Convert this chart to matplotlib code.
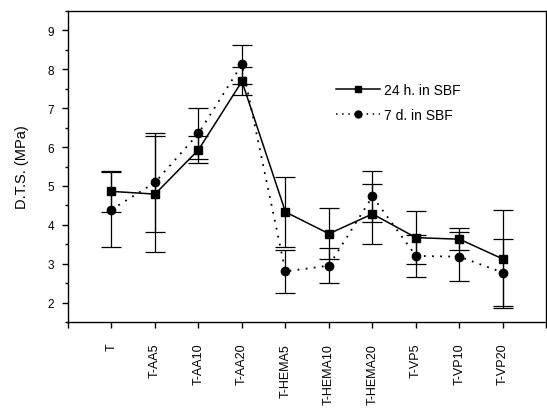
import matplotlib
matplotlib.use('Agg')
import matplotlib.pyplot as plt
from matplotlib.lines import Line2D
from matplotlib.ticker import MultipleLocator

plt.rcParams['font.family'] = ['Liberation Sans', 'DejaVu Sans']

# data
groupes = ["T", "T-AA5", "T-AA10", "T-AA20", "T-HEMA5", "T-HEMA10",
           "T-HEMA20", "T-VP5", "T-VP10", "T-VP20"]
dts_24h = [4.86, 4.79, 5.93, 7.69, 4.33, 3.77, 4.28, 3.67, 3.63, 3.12]
err_24h = [0.53, 1.50, 0.35, 0.36, 0.90, 0.65, 0.77, 0.68, 0.29, 1.25]
dts_7d = [4.39, 5.09, 6.35, 8.13, 2.80, 2.95, 4.73, 3.20, 3.18, 2.77]
err_7d = [0.97, 1.27, 0.66, 0.50, 0.55, 0.45, 0.65, 0.55, 0.63, 0.86]

x = list(range(1, len(groupes) + 1))

fig = plt.figure(figsize=(5.47, 4.10), dpi=100)
ax = fig.add_axes([0.1243, 0.2122, 0.8747, 0.7585])

ax.errorbar(x, dts_24h, yerr=err_24h, color="black", marker="s", ms=5.5,
            lw=1.1, elinewidth=0.9, capsize=7, capthick=0.9)
ax.errorbar(x, dts_7d, yerr=err_7d, color="black", marker="o", ms=6,
            ls=(0, (1, 3.5)), lw=1.3, elinewidth=0.9, capsize=7, capthick=0.9)

ax.set_xlim(0, 11)
ax.set_ylim(1.5, 9.5)
ax.set_xticks(range(0, 12))
ax.set_xticklabels([""] + groupes + [""], rotation=90, fontsize=9)
ax.yaxis.set_major_locator(MultipleLocator(1))
ax.yaxis.set_minor_locator(MultipleLocator(0.5))
ax.set_yticks(range(2, 10))
ax.tick_params(axis="x", direction="out", length=4, width=1, pad=11)
ax.tick_params(axis="y", direction="out", length=4, width=1, pad=6, labelsize=8.5)
ax.tick_params(axis="y", which="minor", direction="out", length=2.5, width=1)
for s in ax.spines.values():
    s.set_linewidth(1)

ax.set_ylabel("D.T.S. (MPa)", fontsize=10.5, labelpad=13)

# legende sans barres d'erreur
h1 = Line2D([], [], color="black", marker="s", ms=4.5, lw=1.1)
h2 = Line2D([], [], color="black", marker="o", ms=5, lw=1.1, ls=(0, (1, 3)))
ax.legend([h1, h2], ["24 h. in SBF", "7 d. in SBF"], loc="upper left",
          bbox_to_anchor=(0.545, 0.79), frameon=False, fontsize=10,
          labelspacing=0.75, handlelength=3.2, handletextpad=0.3, borderpad=0)

plt.savefig("out.png", dpi=100)
